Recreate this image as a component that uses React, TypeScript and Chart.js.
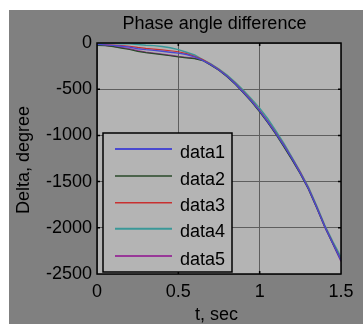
import React, { useEffect, useRef } from "react";
import { Chart, registerables } from "chart.js";

Chart.register(...registerables);

const tValues = [0, 0.05, 0.1, 0.15, 0.2, 0.25, 0.3, 0.35, 0.4, 0.45, 0.5, 0.55, 0.6, 0.65, 0.7, 0.75, 0.8, 0.85, 0.9, 0.95, 1.0, 1.05, 1.1, 1.15, 1.2, 1.25, 1.3, 1.35, 1.4, 1.45, 1.5];

const data1 = [-15, -20, -26, -35, -45, -62, -72, -80, -90, -100, -110, -125, -150, -188, -235, -292, -360, -440, -532, -628, -735, -852, -978, -1112, -1255, -1408, -1575, -1775, -1985, -2170, -2350];
const data2 = [-25, -30, -40, -55, -70, -90, -105, -115, -125, -138, -150, -160, -170, -190, -240, -296, -366, -448, -540, -636, -745, -862, -990, -1128, -1268, -1418, -1582, -1780, -1988, -2172, -2352];
const data3 = [-15, -18, -22, -28, -35, -48, -58, -66, -75, -84, -95, -115, -145, -180, -230, -288, -356, -436, -528, -622, -730, -846, -972, -1105, -1250, -1400, -1570, -1770, -1980, -2165, -2345];
const data4 = [-5, -5, -6, -8, -10, -16, -24, -28, -38, -52, -72, -100, -130, -180, -225, -282, -348, -425, -512, -605, -705, -820, -950, -1090, -1240, -1395, -1560, -1760, -1970, -2150, -2315];
const data5 = [-20, -25, -35, -48, -62, -82, -100, -110, -120, -132, -145, -155, -165, -186, -236, -294, -362, -442, -535, -632, -740, -858, -982, -1118, -1262, -1412, -1580, -1780, -1990, -2175, -2365];

const seriesNames = ["data1", "data2", "data3", "data4", "data5"];
const seriesValues = [data1, data2, data3, data4, data5];
const seriesColors = ["#4a4ad0", "#2a4a2a", "#c83030", "#3a9898", "#983898"];
const seriesWidths = [1.4, 1.2, 1.2, 1.4, 1.4];
const legendWidths = [2.2, 1.6, 1.6, 2, 2];

const titleText = "Phase angle difference";
const xTitle = "t, sec";
const yTitle = "Delta, degree";

const FONT = "Arial, 'Liberation Sans', sans-serif";

export default function App() {
  const ref = useRef<HTMLCanvasElement | null>(null);
  useEffect(() => {
    const canvas = ref.current;
    if (!canvas) return;
    const deco = {
      id: "deco",
      beforeDraw(chart: any) {
        const ctx = chart.ctx;
        const a = chart.chartArea;
        ctx.save();
        ctx.fillStyle = "#808080";
        ctx.fillRect(0, 0, chart.width, chart.height);
        ctx.fillStyle = "#b4b4b4";
        ctx.fillRect(a.left, a.top, a.right - a.left, a.bottom - a.top);
        ctx.restore();
      },
      afterDraw(chart: any) {
        const ctx = chart.ctx;
        const a = chart.chartArea;
        const xs = chart.scales.x;
        const ys = chart.scales.y;
        ctx.save();
        ctx.strokeStyle = "#000";
        ctx.lineWidth = 1.5;
        for (const v of [0.5, 1]) {
          const px = xs.getPixelForValue(v);
          ctx.beginPath();
          ctx.moveTo(px, a.top);
          ctx.lineTo(px, a.top + 3);
          ctx.moveTo(px, a.bottom);
          ctx.lineTo(px, a.bottom - 3);
          ctx.stroke();
        }
        for (const v of [-500, -1000, -1500, -2000]) {
          const py = ys.getPixelForValue(v);
          ctx.beginPath();
          ctx.moveTo(a.left, py);
          ctx.lineTo(a.left + 3, py);
          ctx.moveTo(a.right, py);
          ctx.lineTo(a.right - 3, py);
          ctx.stroke();
        }
        ctx.strokeRect(a.left, a.top, a.right - a.left, a.bottom - a.top);
        const lx = 94, ly = 123, lw = 129, lh = 139;
        ctx.fillStyle = "#b4b4b4";
        ctx.fillRect(lx, ly, lw, lh);
        ctx.lineWidth = 1.5;
        ctx.strokeStyle = "#000";
        ctx.strokeRect(lx, ly, lw, lh);
        const rowY = [139, 166, 192.7, 218.7, 246];
        ctx.font = "18px " + FONT;
        ctx.textAlign = "left";
        ctx.textBaseline = "alphabetic";
        seriesNames.forEach((n, i) => {
          ctx.strokeStyle = seriesColors[i];
          ctx.lineWidth = legendWidths[i];
          ctx.beginPath();
          ctx.moveTo(106, rowY[i]);
          ctx.lineTo(163, rowY[i]);
          ctx.stroke();
          ctx.fillStyle = "#000";
          ctx.fillText(n, 171, rowY[i] + 8.5);
        });
        ctx.fillStyle = "#000";
        ctx.font = "18px " + FONT;
        ctx.textAlign = "center";
        ctx.fillText(titleText, 205.5, 18.5);
        ctx.fillText(xTitle, 207.5, 310);
        ctx.translate(20, 150);
        ctx.rotate(-Math.PI / 2);
        ctx.fillText(yTitle, 0, 0);
        ctx.restore();
      },
    };
    const chart = new Chart(canvas, {
      type: "line",
      data: {
        datasets: seriesNames.map((n, i) => ({
          label: n,
          data: tValues.map((t, j) => ({ x: t, y: seriesValues[i][j] })),
          borderColor: seriesColors[i],
          borderWidth: seriesWidths[i],
          pointRadius: 0,
          tension: 0,
          fill: false,
        })),
      },
      options: {
        responsive: false,
        animation: false,
        layout: { padding: { top: 33, right: 22, left: 0, bottom: 0 } },
        plugins: { legend: { display: false }, title: { display: false }, tooltip: { enabled: false } },
        scales: {
          x: {
            type: "linear",
            min: 0,
            max: 1.5,
            ticks: { stepSize: 0.5, color: "#000", font: { family: FONT, size: 18 }, padding: 7, maxRotation: 0, callback: (v: any) => String(v) },
            grid: { color: "#5e5e5e", lineWidth: 1, drawTicks: false },
            border: { display: false },
            afterFit(scale: any) { scale.height = 50; },
          },
          y: {
            min: -2500,
            max: 0,
            ticks: { stepSize: 500, color: "#000", font: { family: FONT, size: 18 }, padding: 5, callback: (v: any) => String(v) },
            grid: { color: "#5e5e5e", lineWidth: 1, drawTicks: false },
            border: { display: false },
            afterFit(scale: any) { scale.width = 88; },
          },
        },
      },
      plugins: [deco],
    });
    return () => chart.destroy();
  }, []);
  return (
    <div style={{ position: "absolute", left: 9, top: 10, width: 354, height: 314 }}>
      <canvas ref={ref} width={354} height={314} style={{ width: 354, height: 314, display: "block" }} />
    </div>
  );
}
